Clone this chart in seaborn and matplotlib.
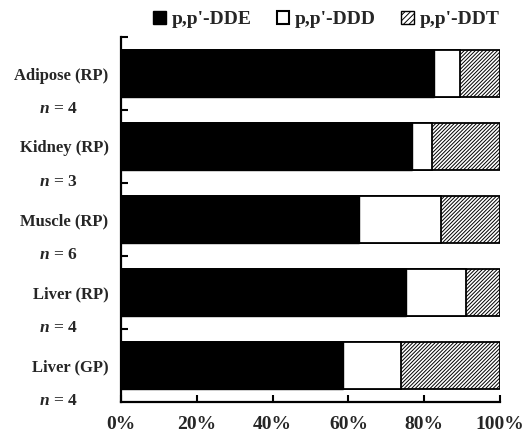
import matplotlib
matplotlib.use("Agg")
import matplotlib.pyplot as plt
import matplotlib.transforms as mtransforms
from matplotlib.patches import Patch
import seaborn as sns
import pandas as pd

# Tissue groups (top to bottom) and sample counts
tissues = ["Adipose (RP)", "Kidney (RP)", "Muscle (RP)", "Liver (RP)", "Liver (GP)"]
n_samples = [4, 3, 6, 4, 4]

# Percentage composition of DDT-related compounds
dde = [82.6, 76.8, 62.8, 75.1, 58.5]
ddd = [6.8, 5.3, 21.6, 15.8, 15.4]
ddt = [10.6, 17.9, 15.6, 9.1, 26.1]

xtick_vals = [0, 20, 40, 60, 80, 100]
xtick_labels = ["0%", "20%", "40%", "60%", "80%", "100%"]

sns.set_theme(style="white")
plt.rcParams["font.family"] = ["Liberation Serif", "DejaVu Serif"]
plt.rcParams["font.weight"] = "bold"
plt.rcParams["mathtext.fontset"] = "custom"
plt.rcParams["mathtext.it"] = "Liberation Serif:bold:italic"
plt.rcParams["mathtext.rm"] = "Liberation Serif:bold"
plt.rcParams["hatch.linewidth"] = 0.7
plt.rcParams["hatch.color"] = "#444444"

df = pd.DataFrame({
    "tissue": tissues,
    "dde": dde,
    "ddd": ddd,
    "ddt": ddt,
})
df["cum_ddd"] = df["dde"] + df["ddd"]
df["cum_ddt"] = df["cum_ddd"] + df["ddt"]

fig = plt.figure(figsize=(5.23, 4.36), dpi=100)
ax = fig.add_axes([121 / 523, 34 / 436, 379 / 523, 365 / 436])

bar_w = 0.65
dense_hatch = "/////////"
# stacked bars: draw cumulative totals from the back to the front
sns.barplot(data=df, y="tissue", x="cum_ddt", orient="h", ax=ax, color="white",
            width=bar_w, edgecolor="black", linewidth=1.3, hatch=dense_hatch, saturation=1)
sns.barplot(data=df, y="tissue", x="cum_ddd", orient="h", ax=ax, color="white",
            width=bar_w, edgecolor="black", linewidth=1.3, saturation=1)
sns.barplot(data=df, y="tissue", x="dde", orient="h", ax=ax, color="black",
            width=bar_w, edgecolor="black", linewidth=1.0, saturation=1)

ax.set_xlim(0, 100)
ax.set_ylim(len(tissues) - 0.5, -0.5)
ax.set_xlabel("")
ax.set_ylabel("")

for side in ["top", "right"]:
    ax.spines[side].set_visible(False)
for side in ["left", "bottom"]:
    ax.spines[side].set_color("black")
    ax.spines[side].set_linewidth(1.6)

ax.set_xticks(xtick_vals)
ax.set_xticklabels(xtick_labels, fontsize=14, fontweight="bold")
ax.tick_params(axis="x", bottom=True, direction="in", length=5, width=1.5, color="black", pad=10)

ax.set_yticks(range(len(tissues)))
ax.set_yticklabels(tissues, fontsize=12, fontweight="bold")
ax.tick_params(axis="y", which="major", left=True, length=0, pad=9)
ax.set_yticks([i - 0.5 for i in range(len(tissues))], minor=True)
ax.tick_params(axis="y", which="minor", left=True, direction="in", length=5, width=1.5,
               color="black")

trans = mtransforms.blended_transform_factory(fig.transFigure, ax.transData)
for i, n in enumerate(n_samples):
    ax.text(58 / 523, i + 0.48, f"$n$ = {n}", transform=trans, ha="center", va="center",
            fontsize=12.5, fontweight="bold")

handles = [
    Patch(facecolor="black", edgecolor="black", label="p,p'-DDE"),
    Patch(facecolor="white", edgecolor="black", linewidth=1.5, label="p,p'-DDD"),
    Patch(facecolor="white", edgecolor="black", hatch="//////", label="p,p'-DDT"),
]
fig.legend(handles=handles, loc="center", bbox_to_anchor=(0.624, 0.955), ncol=3,
           frameon=False, handlelength=0.65, handleheight=0.65, handletextpad=0.3,
           columnspacing=1.3, prop={"family": "Liberation Serif", "weight": "bold", "size": 14})

fig.savefig("out.png", dpi=100)
